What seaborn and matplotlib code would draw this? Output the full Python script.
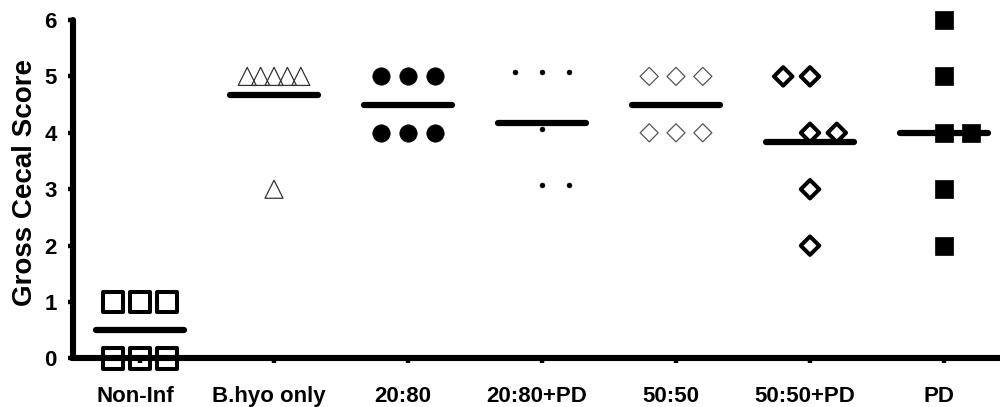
import numpy as np
import matplotlib
matplotlib.use("Agg")
import matplotlib.pyplot as plt
import matplotlib.transforms as mtransforms
from matplotlib.path import Path
import seaborn as sns

# Groups and individual gross cecal scores
groups = ["Non-Inf", "B.hyo only", "20:80", "20:80+PD", "50:50", "50:50+PD", "PD"]
non_inf = [1, 1, 1, 0, 0, 0]
bhyo_only = [5, 5, 5, 5, 5, 3]
mix_20_80 = [5, 5, 5, 4, 4, 4]
mix_20_80_pd = [5, 5, 5, 4, 3, 3]
mix_50_50 = [5, 5, 5, 4, 4, 4]
mix_50_50_pd = [5, 5, 4, 4, 3, 2]
pd_only = [6, 5, 4, 4, 3, 2]
y_ticks = [0, 1, 2, 3, 4, 5, 6]
y_label = "Gross Cecal Score"

scores = [non_inf, bhyo_only, mix_20_80, mix_20_80_pd, mix_50_50, mix_50_50_pd, pd_only]

# Small dot symbol that sits a little above its anchor point (Prism-style dot)
_circle = Path.unit_circle()
raised_dot = Path(_circle.vertices + np.array([0.0, 1.6]), _circle.codes)

# Marker style per group (Prism-like symbols)
styles = [
    dict(marker="s", size=14.5, face="none", edge="black", lw=2.9),
    dict(marker="^", size=13.0, face="none", edge="#333333", lw=0.9),
    dict(marker="o", size=12.5, face="black", edge="black", lw=0.5),
    dict(marker=raised_dot, size=9.4, face="black", edge="black", lw=0.3),
    dict(marker="D", size=9.2, face="none", edge="#555555", lw=0.9),
    dict(marker="D", size=9.4, face="none", edge="black", lw=2.9),
    dict(marker="s", size=13.0, face="black", edge="black", lw=0.5),
]

SLOT = 0.2        # horizontal spacing (category units) between tied points
HALF_BAR = 0.33   # half-length of the mean line


def spread(values, slot=SLOT):
    """Side-by-side offsets for points sharing the same score."""
    vals = np.asarray(values, float)
    offs = np.zeros(len(vals))
    top = vals.max()
    for v in np.unique(vals):
        idx = np.flatnonzero(vals == v)
        k = len(idx)
        if k == 2:
            pos = np.array([-1.0, 0.0]) if v == top else np.array([0.0, 1.0])
        else:
            step = min(1.0, 2.0 / max(k - 1, 1))
            pos = (np.arange(k) - (k - 1) / 2) * step
        offs[idx] = pos * slot
    return offs


sns.set_theme(style="ticks")
plt.rcParams["font.family"] = ["Liberation Sans", "DejaVu Sans"]
plt.rcParams["font.weight"] = "bold"

fig = plt.figure(figsize=(10.0, 4.07), dpi=100)
ax = fig.add_axes([0.0725, 0.1192, 0.9275, 0.8317])

for i, (vals, st) in enumerate(zip(scores, styles)):
    xs = i + spread(vals)
    sns.scatterplot(
        x=xs, y=vals, ax=ax, marker=st["marker"], s=st["size"] ** 2,
        facecolor=st["face"], edgecolor=st["edge"], linewidth=st["lw"],
        clip_on=False, zorder=3, legend=False,
    )
    ax.collections[-1].set_joinstyle("round")
    m = float(np.mean(vals))
    ax.plot([i - HALF_BAR, i + HALF_BAR], [m, m], color="black", lw=4.5,
            solid_capstyle="round", zorder=4, clip_on=False)

ax.set_xlim(-0.504, 6.418)
ax.set_ylim(0, 6)
ax.set_xticks(range(len(groups)))
ax.set_xticklabels(groups)
ax.set_yticks(y_ticks)
ax.set_yticklabels([str(t) for t in y_ticks])
ax.set_ylabel(y_label, fontsize=20, fontweight="bold", color="black")
ax.yaxis.set_label_coords(-0.037, 0.52)
ax.set_xlabel("")

sns.despine(ax=ax)
for side in ("left", "bottom"):
    ax.spines[side].set_linewidth(4.4)
    ax.spines[side].set_color("black")
    ax.spines[side].set_capstyle("round")
    ax.spines[side].set_zorder(2.5)

ax.tick_params(axis="y", direction="out", length=3.5, width=3.2, color="black",
               pad=8, labelsize=16, labelcolor="black")
ax.tick_params(axis="x", direction="out", length=3.5, width=3.2, color="black",
               pad=16, labelsize=16, labelcolor="black")
shift = mtransforms.ScaledTranslation(-5 / 100, 0, fig.dpi_scale_trans)
for lab in ax.get_xticklabels():
    lab.set_fontweight("bold")
    lab.set_transform(lab.get_transform() + shift)
for lab in ax.get_yticklabels():
    lab.set_fontweight("bold")

ax.set_facecolor("white")
fig.patch.set_facecolor("white")
fig.savefig("out.png", dpi=100, facecolor="white")
